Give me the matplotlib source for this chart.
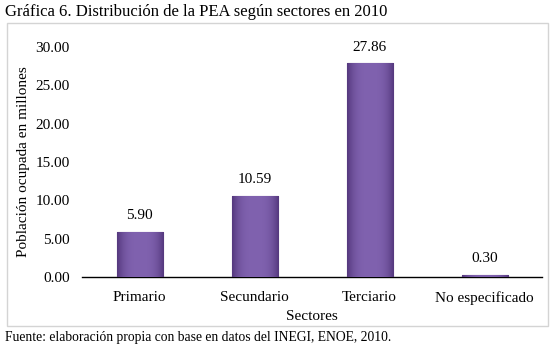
import numpy as np
import matplotlib
matplotlib.use("Agg")
import matplotlib.pyplot as plt
from matplotlib.patches import Rectangle

SECTORS = ["Primario", "Secundario", "Terciario", "No especificado"]
VALUES = [5.90, 10.59, 27.86, 0.30]
Y_TICKS = [0, 5, 10, 15, 20, 25, 30]

TITLE = "Gráfica 6. Distribución de la PEA según sectores en 2010"
SOURCE = "Fuente: elaboración propia con base en datos del INEGI, ENOE, 2010."

BAR_MID = np.array([0x80, 0x62, 0xaf]) / 255
BAR_EDGE = np.array([0x55, 0x38, 0x7e]) / 255

plt.rcParams.update({
    "font.family": ["Liberation Serif", "DejaVu Serif"],
    "font.size": 11,
})

fig = plt.figure(figsize=(5.51, 3.56), dpi=100)
ax = fig.add_axes((0.149, 0.222, 0.835, 0.646))

x = np.arange(len(SECTORS))
bars = ax.bar(x, VALUES, width=0.4, color=BAR_MID, edgecolor="#4a2f6e",
              linewidth=0.8, zorder=2)

# horizontal shading inside each bar, clipped to the bar patch
grad = np.linspace(-1, 1, 64)
w = 1 - np.abs(grad) ** 3
img = BAR_EDGE[None, :] + (BAR_MID - BAR_EDGE)[None, :] * w[:, None]
img = img[None, :, :]
for b in bars:
    im = ax.imshow(img, extent=(b.get_x(), b.get_x() + b.get_width(),
                                0, b.get_height()),
                   aspect="auto", zorder=3, interpolation="bilinear")
    im.set_clip_path(b)

for xi, v in zip(x, VALUES):
    ax.annotate(f"{v:.2f}", (xi, v), xytext=(0, 7), textcoords="offset points",
                ha="center", va="bottom", fontsize=11)

ax.set_xlim(-0.5, 3.5)
ax.set_ylim(0, 30)
ax.set_yticks(Y_TICKS)
ax.set_yticklabels([f"{t:.2f}" for t in Y_TICKS])
ax.set_xticks(x)
ax.set_xticklabels(SECTORS)
ax.tick_params(axis="both", length=0, labelsize=11)
ax.tick_params(axis="x", pad=10)
ax.tick_params(axis="y", pad=9)
for s in ("top", "right", "left"):
    ax.spines[s].set_visible(False)
ax.spines["bottom"].set_linewidth(1.0)
ax.set_xlabel("Sectores", fontsize=11, labelpad=4)
ax.set_ylabel("Población ocupada en millones", fontsize=11, labelpad=4)

# light frame around the chart area
fig.patches.append(Rectangle((7 / 551, 30 / 356), 541 / 551, 303 / 356,
                             transform=fig.transFigure, fill=False,
                             edgecolor="#d4d4d4", linewidth=1.0))

fig.text(5 / 551, 1 - 12 / 356, TITLE, ha="left", va="center", fontsize=12)
fig.text(5 / 551, 1 - 338 / 356, SOURCE, ha="left", va="center", fontsize=9.8)

fig.savefig("out.png", dpi=100)
